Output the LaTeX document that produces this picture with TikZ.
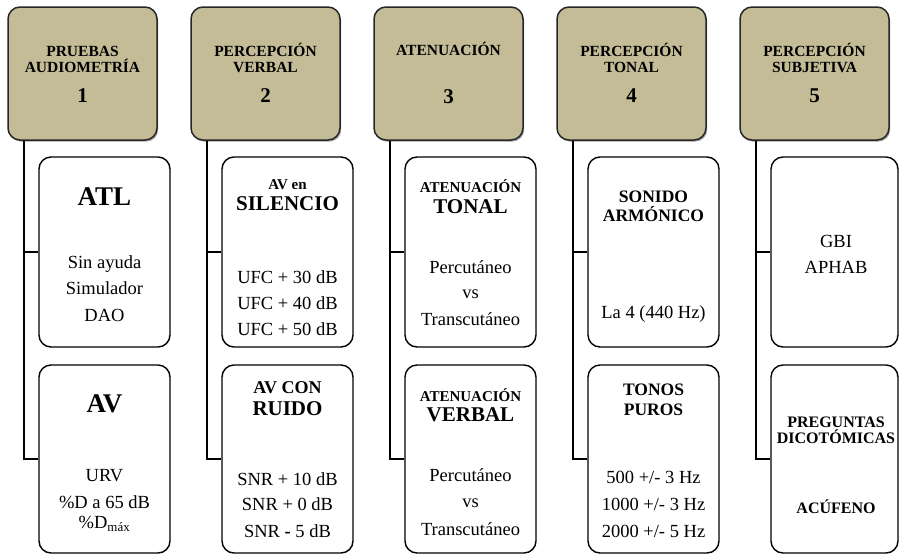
\documentclass[tikz,border=0pt]{standalone}
\usepackage{fontspec}
\setmainfont{Liberation Serif}
\usepackage{xcolor}
\usetikzlibrary{shadows}

\definecolor{headtan}{HTML}{C4BC96}

\begin{document}
\begin{tikzpicture}[
    x=1pt, y=-1pt,
    head/.style={draw=black!85, line width=1.5pt, fill=headtan, rounded corners=12pt,
        minimum width=149pt, minimum height=133pt, inner sep=0pt,
        drop shadow={shadow xshift=1.2pt, shadow yshift=-1.6pt, opacity=0.75}},
    item/.style={draw=black, line width=1.4pt, fill=white, rounded corners=12pt,
        minimum width=131pt, inner sep=0pt},
    conn/.style={line width=2pt},
    lbl/.style={anchor=base, inner sep=0pt},
    htxt/.style={lbl, font=\fontsize{15.5}{16}\selectfont\bfseries},
    hnum/.style={lbl, font=\fontsize{21}{22}\selectfont\bfseries},
    big/.style={lbl, font=\fontsize{27}{28}\selectfont\bfseries},
    mid/.style={lbl, font=\fontsize{21}{22}\selectfont\bfseries},
    sml/.style={lbl, font=\fontsize{15}{16}\selectfont\bfseries},
    body/.style={lbl, font=\fontsize{18.5}{20}\selectfont}
]
    \useasboundingbox (0,0) rectangle (899,555);

    % Headers
    \node[head] (h1) at (82.5,73.5) {};
    \node[head] (h2) at (265.5,73.5) {};
    \node[head] (h3) at (448.5,73.5) {};
    \node[head] (h4) at (631.5,73.5) {};
    \node[head] (h5) at (814.5,73.5) {};

    \node[htxt] (h1t1) at (82.5,56) {PRUEBAS};
    \node[htxt] (h1t2) at (82.5,72) {AUDIOMETRÍA};
    \node[hnum] (h1n) at (82.5,102) {1};
    \node[htxt] (h2t1) at (265.5,56) {PERCEPCIÓN};
    \node[htxt] (h2t2) at (265.5,72) {VERBAL};
    \node[hnum] (h2n) at (265.5,102) {2};
    \node[htxt] (h3t1) at (448.5,55) {ATENUACIÓN};
    \node[hnum] (h3n) at (448.5,103) {3};
    \node[htxt] (h4t1) at (631.5,56) {PERCEPCIÓN};
    \node[htxt] (h4t2) at (631.5,72) {TONAL};
    \node[hnum] (h4n) at (631.5,102) {4};
    \node[htxt] (h5t1) at (814.5,56) {PERCEPCIÓN};
    \node[htxt] (h5t2) at (814.5,72) {SUBJETIVA};
    \node[hnum] (h5n) at (814.5,102) {5};

    % Child boxes
    \node[item, minimum height=190pt] (a1) at (104.5,252) {};
    \node[item, minimum height=188pt] (b1) at (104.5,459) {};
    \node[item, minimum height=190pt] (a2) at (287.5,252) {};
    \node[item, minimum height=188pt] (b2) at (287.5,459) {};
    \node[item, minimum height=190pt] (a3) at (470.5,252) {};
    \node[item, minimum height=188pt] (b3) at (470.5,459) {};
    \node[item, minimum height=190pt] (a4) at (653.5,252) {};
    \node[item, minimum height=188pt] (b4) at (653.5,459) {};
    \node[item, minimum height=190pt, minimum width=127pt] (a5) at (834.5,252) {};
    \node[item, minimum height=188pt, minimum width=127pt] (b5) at (834.5,459) {};

    % Connectors
    \foreach \i in {1,...,5} {
        \coordinate (t\i) at ([xshift=17pt]h\i.south west);
        \draw[conn] (t\i) |- (b\i.west);
        \draw[conn] (t\i |- a\i.west) -- (a\i.west);
    }

    % Column 1
    \node[big] (a1t) at (104.5,205) {ATL};
    \node[body] (a1l1) at (104.5,268) {Sin ayuda};
    \node[body] (a1l2) at (104.5,294) {Simulador};
    \node[body] (a1l3) at (104.5,321) {DAO};
    \node[big] (b1t) at (104.5,412) {AV};
    \node[body] (b1l1) at (104.5,481) {URV};
    \node[body] (b1l2) at (104.5,508) {\%D a 65 dB};
    \node[body] (b1l3) at (104.5,528) {\%D\textsubscript{máx}};

    % Column 2
    \node[sml] (a2t1) at (287.5,189) {AV en};
    \node[mid] (a2t2) at (287.5,210) {SILENCIO};
    \node[body] (a2l1) at (287.5,283) {UFC + 30 dB};
    \node[body] (a2l2) at (287.5,309) {UFC + 40 dB};
    \node[body] (a2l3) at (287.5,335) {UFC + 50 dB};
    \node[lbl, font=\fontsize{18}{20}\selectfont\bfseries] (b2t1) at (287.5,393) {AV CON};
    \node[mid] (b2t2) at (287.5,415) {RUIDO};
    \node[body] (b2l1) at (287.5,485) {SNR + 10 dB};
    \node[body] (b2l2) at (287.5,510) {SNR + 0 dB};
    \node[body] (b2l3) at (287.5,537) {SNR \textbf{-} 5 dB};

    % Column 3
    \node[sml] (a3t1) at (470.5,192) {ATENUACIÓN};
    \node[mid] (a3t2) at (470.5,213) {TONAL};
    \node[body] (a3l1) at (470.5,273) {Percutáneo};
    \node[body] (a3l2) at (470.5,298) {vs};
    \node[body] (a3l3) at (470.5,325) {Transcutáneo};
    \node[sml] (b3t1) at (470.5,401) {ATENUACIÓN};
    \node[mid] (b3t2) at (470.5,421) {VERBAL};
    \node[body] (b3l1) at (470.5,481) {Percutáneo};
    \node[body] (b3l2) at (470.5,507) {vs};
    \node[body] (b3l3) at (470.5,535) {Transcutáneo};

    % Column 4
    \node[lbl, font=\fontsize{17.5}{18}\selectfont\bfseries] (a4t1) at (653.5,202) {SONIDO};
    \node[lbl, font=\fontsize{17.5}{18}\selectfont\bfseries] (a4t2) at (653.5,221) {ARMÓNICO};
    \node[body] (a4l1) at (653.5,318) {La 4 (440 Hz)};
    \node[lbl, font=\fontsize{17.5}{18}\selectfont\bfseries] (b4t1) at (653.5,395) {TONOS};
    \node[lbl, font=\fontsize{17.5}{18}\selectfont\bfseries] (b4t2) at (653.5,415) {PUROS};
    \node[body] (b4l1) at (653.5,483) {500 +/- 3 Hz};
    \node[body] (b4l2) at (653.5,510) {1000 +/- 3 Hz};
    \node[body] (b4l3) at (653.5,537) {2000 +/- 5 Hz};

    % Column 5
    \node[body] (a5l1) at (836,247) {GBI};
    \node[body] (a5l2) at (836,273) {APHAB};
    \node[lbl, font=\fontsize{16}{17}\selectfont\bfseries] (b5t1) at (836,427) {PREGUNTAS};
    \node[lbl, font=\fontsize{16}{17}\selectfont\bfseries] (b5t2) at (836,443) {DICOTÓMICAS};
    \node[lbl, font=\fontsize{16}{17}\selectfont\bfseries] (b5t3) at (836,513) {ACÚFENO};
\end{tikzpicture}
\end{document}
